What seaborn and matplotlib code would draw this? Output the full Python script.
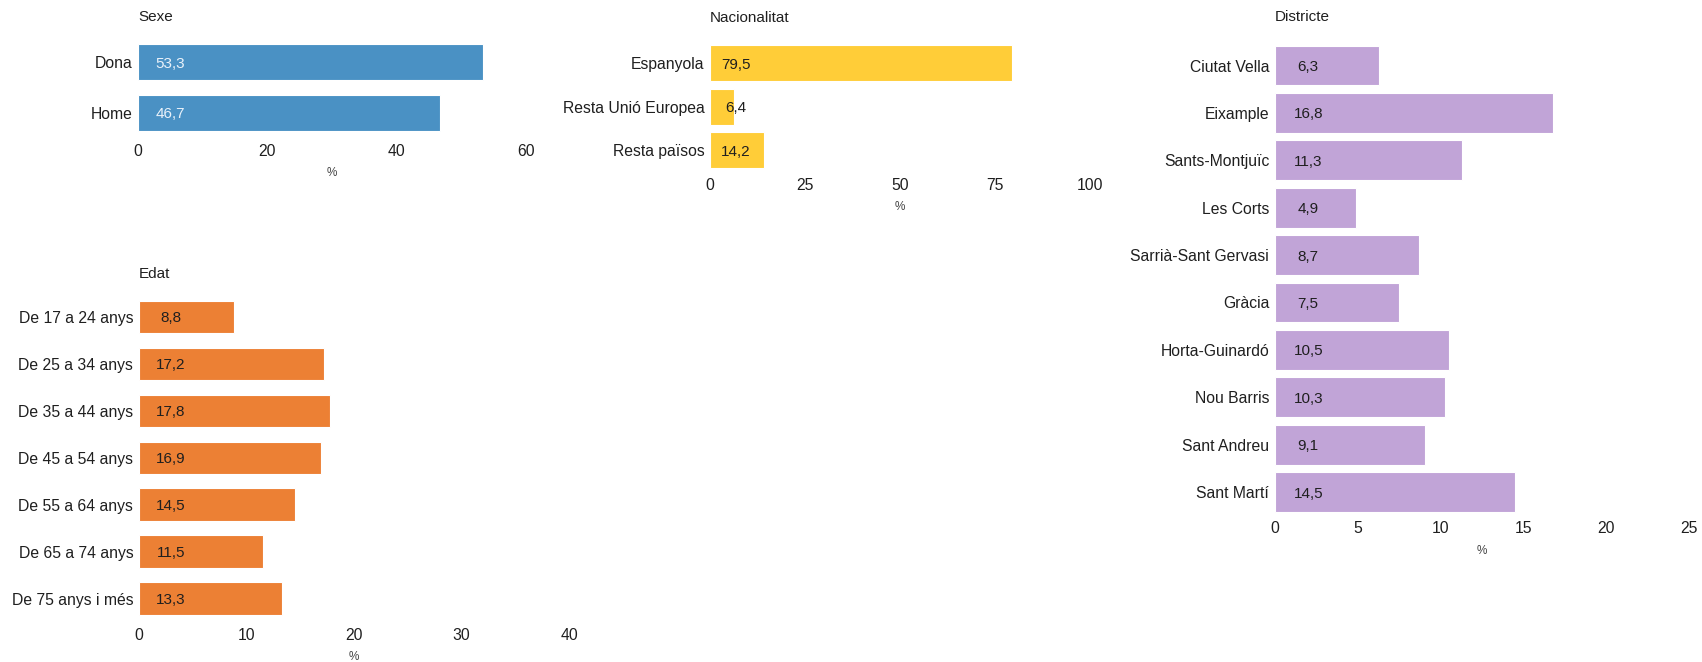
import matplotlib
matplotlib.use("Agg")
import matplotlib.pyplot as plt
import seaborn as sns
import pandas as pd

# ---- data ----
sexe_cats = ["Dona", "Home"]
sexe_vals = [53.3, 46.7]

nac_cats = ["Espanyola", "Resta Unió Europea", "Resta països"]
nac_vals = [79.5, 6.4, 14.2]

dist_cats = ["Ciutat Vella", "Eixample", "Sants-Montjuïc", "Les Corts",
             "Sarrià-Sant Gervasi", "Gràcia", "Horta-Guinardó", "Nou Barris",
             "Sant Andreu", "Sant Martí"]
dist_vals = [6.3, 16.8, 11.3, 4.9, 8.7, 7.5, 10.5, 10.3, 9.1, 14.5]

edat_cats = ["De 17 a 24 anys", "De 25 a 34 anys", "De 35 a 44 anys",
             "De 45 a 54 anys", "De 55 a 64 anys", "De 65 a 74 anys",
             "De 75 anys i més"]
edat_vals = [8.8, 17.2, 17.8, 16.9, 14.5, 11.5, 13.3]

sexe_ticks = [0, 20, 40, 60]
nac_ticks = [0, 25, 50, 75, 100]
dist_ticks = [0, 5, 10, 15, 20, 25]
edat_ticks = [0, 10, 20, 30, 40]

# ---- style ----
sns.set_theme(style="white")
plt.rcParams["font.family"] = ["Liberation Sans", "DejaVu Sans"]

W, H = 1702, 662
DPI = 100
fig = plt.figure(figsize=(W / DPI, H / DPI), dpi=DPI)
fig.patch.set_facecolor("white")

TXT = "#1f1f1f"


def rect(l, r, t, b):
    return [l / W, 1 - b / H, (r - l) / W, (b - t) / H]


def panel(box, cats, vals, ticks, color, width, title, title_y,
          label_off_px, label_color):
    ax = fig.add_axes(rect(*box))
    df = pd.DataFrame({"cat": cats, "val": vals})
    sns.barplot(data=df, x="val", y="cat", orient="h", color=color,
                width=width, saturation=1, edgecolor="white", linewidth=0.8,
                ax=ax)
    ax.set_xlim(ticks[0], ticks[-1])
    ax.set_ylim(len(cats) - 0.5, -0.5)
    ax.set_xticks(ticks)
    ax.set_xticklabels([str(t) for t in ticks])
    ax.set_ylabel("")
    ax.set_xlabel("%", fontsize=8.5, color="#444444", labelpad=6)
    ax.tick_params(axis="x", length=0, pad=4, labelsize=11.3, labelcolor=TXT)
    ax.tick_params(axis="y", length=0, pad=4, labelsize=11.3, labelcolor=TXT)
    for s in ax.spines.values():
        s.set_visible(False)
    ax.grid(False)
    ax.set_facecolor("white")
    for i, v in enumerate(vals):
        ax.annotate(f"{v:.1f}".replace(".", ","), xy=(0, i),
                    xytext=(label_off_px * 72 / DPI, 0),
                    textcoords="offset points", ha="center",
                    va="center_baseline",
                    fontsize=11, color=label_color)
    fig.text(box[0] / W, 1 - title_y / H, title, ha="left", va="center",
             fontsize=11, color=TXT)
    return ax


panel((137.9, 526.1, 36.8, 138.4), sexe_cats, sexe_vals, sexe_ticks,
      "#4A91C4", 0.70, "Sexe", 17.3, 32.5, "#EAF2FA")
panel((710, 1090, 41.55, 172.05), nac_cats, nac_vals, nac_ticks,
      "#FFCD38", 0.82, "Nacionalitat", 18.3, 26, TXT)
panel((1274.8, 1688.7, 41.9, 515.7), dist_cats, dist_vals, dist_ticks,
      "#C1A4D7", 0.84, "Districte", 17.3, 33.4, TXT)
panel((138.9, 569.1, 293.5, 622), edat_cats, edat_vals, edat_ticks,
      "#EC8034", 0.69, "Edat", 274.3, 32, TXT)

fig.savefig("out.png", dpi=DPI, facecolor="white")
